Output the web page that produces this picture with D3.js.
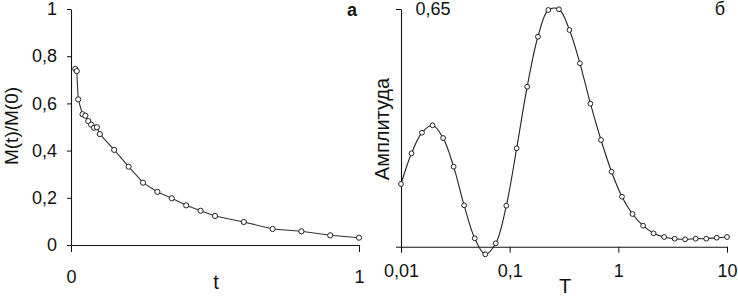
<!DOCTYPE html>
<html>
<head>
<meta charset="utf-8">
<script src="https://cdn.jsdelivr.net/npm/d3@7"></script>
<style>
  html, body { margin: 0; padding: 0; background: #fff; }
  svg { display: block; }
  text { font-family: "Liberation Sans", Arial, sans-serif; fill: #111; }
</style>
</head>
<body>
<svg id="chart" width="738" height="298"></svg>
<script>
// ---- Panel a: relaxation curve ----
const tValues = [0.015, 0.02, 0.025, 0.04, 0.05, 0.06, 0.07, 0.08, 0.09, 0.1,
                 0.15, 0.2, 0.25, 0.3, 0.35, 0.4, 0.45, 0.5, 0.6, 0.7, 0.8, 0.9, 1.0];
const mRatio  = [0.746, 0.737, 0.617, 0.554, 0.548, 0.525, 0.51, 0.497, 0.499, 0.47,
                 0.403, 0.332, 0.264, 0.225, 0.198, 0.168, 0.145, 0.123, 0.0975, 0.068, 0.058, 0.041, 0.031];
const leftYTicks = [0, 0.2, 0.4, 0.6, 0.8, 1];
const leftXTicks = [0, 1];

// ---- Panel б: amplitude spectrum ----
const TValues = [0.01, 0.0125, 0.0156, 0.0195, 0.0244, 0.0305, 0.0381, 0.0477, 0.0596, 0.0745,
                 0.0931, 0.116, 0.145, 0.182, 0.227, 0.284, 0.355, 0.443, 0.554, 0.693,
                 0.866, 1.08, 1.35, 1.69, 2.11, 2.64, 3.30, 4.12, 5.15, 6.44, 8.05, 10];
const amplitude = [0.1715, 0.2554, 0.3117, 0.332, 0.2972, 0.2188, 0.1132, 0.023, -0.0208, 0.0093,
                   0.1121, 0.269, 0.4375, 0.5742, 0.6473, 0.6492, 0.5926, 0.5015, 0.391, 0.2918,
                   0.2051, 0.1367, 0.0894, 0.0574, 0.0366, 0.0265, 0.0219, 0.0202, 0.0219, 0.0219, 0.0246, 0.0265];
const rightXTicks = [0.01, 0.1, 1, 10];
const rightYTicks = [0, 0.65];
const rightTopLabel = "0,65";

const panelLetters = ["а", "б"];
const axisTitles = { leftY: "M(t)/M(0)", leftX: "t", rightY: "Амплитуда", rightX: "T" };

const comma = d => String(d).replace(".", ",");
const svg = d3.select("#chart");

// ---------- Left panel ----------
const xL = d3.scaleLinear().domain([0, 1]).range([71, 359]);
const yL = d3.scaleLinear().domain([0, 1]).range([245, 9]);

const gLy = svg.append("g").attr("transform", `translate(${xL(0)},0)`)
  .call(d3.axisLeft(yL).tickValues(leftYTicks).tickSize(4).tickSizeOuter(0).tickPadding(10).tickFormat(comma));
const gLx = svg.append("g").attr("transform", `translate(0,${yL(0)})`)
  .call(d3.axisBottom(xL).tickValues(leftXTicks).tickSize(7).tickSizeOuter(0).tickPadding(18).tickFormat(comma));

// ---------- Right panel ----------
const xR = d3.scaleLog().domain([0.01, 10]).range([401, 727]);
const yR = d3.scaleLinear().domain([0, 0.65]).range([246.7, 9]);

const gRy = svg.append("g").attr("transform", `translate(${xR(0.01)},0)`)
  .call(d3.axisLeft(yR).tickValues(rightYTicks).tickSize(5).tickSizeOuter(0).tickFormat(""));
const gRx = svg.append("g").attr("transform", `translate(0,${yR(0)})`)
  .call(d3.axisBottom(xR).tickValues(rightXTicks).tickSize(6).tickSizeOuter(0).tickPadding(12).tickFormat(comma));

[gLy, gLx, gRy, gRx].forEach(g => {
  g.selectAll("path.domain").attr("stroke", "#111").attr("stroke-width", 1.1);
  g.selectAll(".tick line").attr("stroke", "#111");
  g.selectAll(".tick text").attr("font-size", 18).attr("font-family", "'Liberation Sans', Arial, sans-serif").attr("fill", "#111");
});

// ---------- Lines and markers ----------
const leftData = tValues.map((t, i) => ({ x: t, y: mRatio[i] }));
const rightData = TValues.map((t, i) => ({ x: t, y: amplitude[i] }));

svg.append("path").datum(leftData)
  .attr("fill", "none").attr("stroke", "#333").attr("stroke-width", 1.1)
  .attr("d", d3.line().x(d => xL(d.x)).y(d => yL(d.y)).curve(d3.curveLinear));

svg.append("path").datum(rightData)
  .attr("fill", "none").attr("stroke", "#222").attr("stroke-width", 1.1)
  .attr("d", d3.line().x(d => xR(d.x)).y(d => yR(d.y)).curve(d3.curveCatmullRom.alpha(0.5)));

svg.append("g").selectAll("circle").data(leftData).join("circle")
  .attr("cx", d => xL(d.x)).attr("cy", d => yL(d.y)).attr("r", 2.6)
  .attr("fill", "#fff").attr("stroke", "#222").attr("stroke-width", 1);

svg.append("g").selectAll("circle").data(rightData).join("circle")
  .attr("cx", d => xR(d.x)).attr("cy", d => yR(d.y)).attr("r", 2.4)
  .attr("fill", "#fff").attr("stroke", "#222").attr("stroke-width", 1);

// ---------- Texts ----------
svg.append("text").attr("x", 433).attr("y", 15).attr("text-anchor", "middle")
  .attr("font-size", 18).text(rightTopLabel);

svg.append("text").attr("x", 352).attr("y", 16).attr("text-anchor", "middle")
  .attr("font-size", 18).attr("font-weight", "bold").text(panelLetters[0]);
svg.append("text").attr("x", 720).attr("y", 15).attr("text-anchor", "middle")
  .attr("font-size", 18).text(panelLetters[1]);

svg.append("text").attr("x", 216).attr("y", 289).attr("text-anchor", "middle")
  .attr("font-size", 20).text(axisTitles.leftX);
svg.append("text").attr("x", 565).attr("y", 293).attr("text-anchor", "middle")
  .attr("font-size", 20).text(axisTitles.rightX);

svg.append("text").attr("transform", "translate(18,126) rotate(-90)").attr("text-anchor", "middle")
  .attr("font-size", 19).text(axisTitles.leftY);
svg.append("text").attr("transform", "translate(389,129) rotate(-90)").attr("text-anchor", "middle")
  .attr("font-size", 20).text(axisTitles.rightY);
</script>
</body>
</html>
